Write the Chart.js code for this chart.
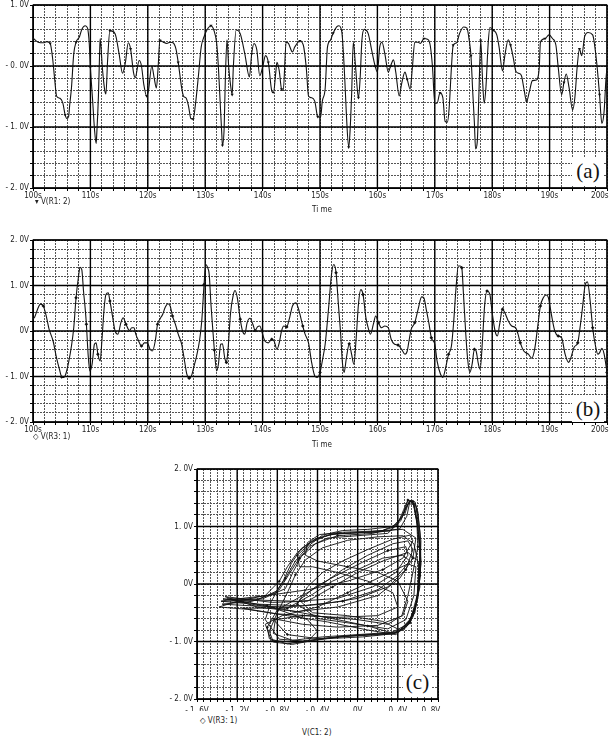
<!DOCTYPE html>
<html>
<head>
<meta charset="UTF-8">
<title>V(R1:2), V(R3:1) and phase portrait</title>
<script src="https://cdn.jsdelivr.net/npm/chart.js"></script>
<style>
    body {
        margin: 0;
        width: 611px;
        height: 740px;
        position: relative;
        overflow: hidden;
        background: #fff;
        font-family: 'DejaVu Sans Condensed', 'Liberation Sans Narrow', sans-serif;
    }
    canvas, .lbl, .tag { position: absolute; }
    .lbl { font-size: 8px; line-height: 8px; color: #222; white-space: nowrap; }
    .tag {
        background: #fff;
        font-family: 'Liberation Serif', 'DejaVu Serif', serif;
        font-size: 21px;
        text-align: center;
        color: #111;
    }
</style>
</head>
<body>
<canvas id="chartA" width="611" height="200" style="left:0px;top:0px"></canvas>
<canvas id="chartB" width="611" height="204" style="left:0px;top:230px"></canvas>
<canvas id="chartC" width="300" height="251" style="left:150px;top:460px"></canvas>

<div class="lbl" style="left:35px;top:198px">&#9662; V(R1: 2)</div>
<div class="lbl" style="left:312px;top:206px">Ti me</div>
<div class="lbl" style="left:33px;top:433px">&#9671; V(R3: 1)</div>
<div class="lbl" style="left:312px;top:441px">Ti me</div>
<div class="lbl" style="left:200px;top:717px">&#9671; V(R3: 1)</div>
<div class="lbl" style="left:302px;top:729px">V(C1: 2)</div>

<div class="tag" style="left:572px;top:157px;width:32px;height:29px;line-height:29px">(a)</div>
<div class="tag" style="left:572px;top:396px;width:32px;height:26px;line-height:26px">(b)</div>
<div class="tag" style="left:403px;top:668px;width:29px;height:28px;line-height:28px">(c)</div>

<script>
    // (a) V(R1:2) against time
    const timeA = [100.0, 100.9, 101.8, 102.4, 103.0, 103.4, 103.8, 104.1, 104.7, 105.2, 105.6, 105.9, 106.2, 106.4, 106.7,
        107.1, 107.5, 108.1, 108.5, 109.1, 109.5, 109.8, 110.0, 110.4, 110.7, 111.0, 111.1, 111.4, 111.6, 111.7,
        112.1, 112.5, 112.7, 113.0, 113.4, 114.3, 115.0, 115.6, 116.1, 116.6, 117.0, 117.5, 117.8, 118.5, 118.9,
        119.3, 119.8, 120.1, 120.7, 121.1, 121.5, 121.8, 122.1, 122.7, 123.3, 123.9, 124.4, 124.9, 125.3, 125.9,
        126.2, 126.7, 127.1, 127.5, 127.9, 128.3, 128.8, 129.3, 129.8, 130.3, 131.0, 131.5, 132.0, 132.3, 132.6,
        132.9, 133.0, 133.3, 133.5, 133.8, 134.1, 134.4, 134.7, 134.9, 135.4, 136.1, 136.9, 137.7, 138.1, 138.5,
        139.0, 139.5, 140.0, 140.5, 141.0, 141.6, 141.9, 142.3, 142.5, 142.9, 143.3, 143.6, 144.1, 144.5, 145.2,
        145.6, 146.5, 147.1, 147.6, 148.0, 148.5, 149.1, 149.6, 150.1, 150.4, 150.9, 151.3, 151.8, 152.3, 152.9,
        153.3, 153.8, 154.3, 154.6, 155.0, 155.2, 155.5, 155.8, 156.2, 156.5, 156.7, 157.0, 157.3, 157.7, 158.4,
        159.0, 159.6, 160.0, 160.4, 160.8, 161.3, 161.9, 162.3, 162.8, 163.2, 163.8, 164.2, 164.8, 165.2, 165.7,
        166.1, 166.5, 167.1, 167.5, 168.1, 168.7, 169.2, 169.6, 170.0, 170.4, 170.9, 171.4, 171.8, 172.2, 172.5,
        172.9, 173.2, 173.8, 174.3, 175.0, 175.6, 176.0, 176.3, 176.6, 176.9, 177.1, 177.4, 177.7, 178.0, 178.3,
        178.6, 178.9, 179.3, 179.6, 180.2, 180.8, 181.2, 181.8, 182.2, 182.8, 183.2, 183.7, 184.1, 184.6, 185.1,
        185.5, 186.0, 186.5, 187.0, 187.7, 188.2, 188.4, 189.2, 189.9, 190.5, 191.1, 191.5, 192.1, 192.5, 192.9,
        193.4, 194.0, 194.4, 194.8, 195.2, 195.6, 196.1, 196.7, 197.5, 198.2, 198.7, 199.1, 199.5, 199.8, 200.0];
    const vR1 = [0.46, 0.39, 0.38, 0.40, 0.37, 0.14, -0.24, -0.49, -0.53, -0.61, -0.80, -0.86, -0.83, -0.63, -0.36,
        0.20, 0.39, 0.48, 0.60, 0.66, 0.62, 0.37, -0.02, -0.58, -1.02, -1.27, -1.13, -0.49, 0.20, 0.45,
        -0.05, -0.40, -0.46, 0.10, 0.58, 0.53, 0.20, -0.12, 0.06, 0.38, 0.28, -0.10, -0.19, 0.09, 0.00,
        -0.30, -0.49, -0.41, 0.00, -0.19, -0.36, -0.02, 0.42, 0.39, 0.37, 0.39, 0.38, 0.28, 0.06, -0.36,
        -0.49, -0.53, -0.66, -0.86, -0.87, -0.63, -0.18, 0.31, 0.48, 0.59, 0.66, 0.59, 0.37, -0.02, -0.58,
        -1.13, -1.30, -1.02, -0.24, 0.43, -0.02, -0.30, -0.47, -0.02, 0.59, 0.53, 0.20, -0.18, 0.20, 0.37,
        0.26, -0.16, -0.02, 0.17, 0.06, -0.41, -0.44, -0.10, 0.06, -0.08, -0.38, -0.40, 0.39, 0.37, 0.23,
        0.31, 0.41, 0.34, -0.02, -0.49, -0.52, -0.58, -0.83, -0.84, -0.58, -0.37, 0.31, 0.42, 0.54, 0.64,
        0.66, 0.56, -0.18, -0.80, -1.33, -1.13, -0.49, 0.39, -0.02, -0.38, -0.52, -0.19, 0.42, 0.60, 0.53,
        0.26, 0.00, -0.10, 0.31, 0.39, 0.20, -0.10, 0.00, 0.10, -0.10, -0.49, -0.30, -0.10, -0.22, -0.38,
        -0.02, 0.39, 0.39, 0.37, 0.45, 0.44, 0.34, -0.02, -0.61, -0.61, -0.44, -0.52, -0.91, -0.92, -0.69,
        -0.02, 0.34, 0.38, 0.53, 0.64, 0.62, 0.42, 0.17, -0.41, -0.94, -1.36, -1.24, -0.41, 0.42, -0.19,
        -0.61, -0.36, 0.37, 0.63, 0.59, 0.51, 0.31, -0.08, 0.17, 0.43, 0.34, 0.12, -0.08, -0.12, -0.16,
        -0.36, -0.58, -0.41, -0.24, -0.23, -0.02, 0.39, 0.45, 0.51, 0.45, 0.34, -0.02, -0.47, -0.27, -0.13,
        -0.36, -0.72, -0.52, -0.02, 0.28, 0.17, 0.48, 0.55, 0.51, 0.06, -0.47, -0.94, -0.74, -0.24, -0.02];

    // (b) V(R3:1) against time
    const timeB = [100.0, 100.3, 100.8, 101.3, 101.8, 102.3, 102.8, 103.5, 104.1, 104.6, 105.0, 105.4, 105.7, 106.2, 106.7,
        107.1, 107.5, 107.9, 108.2, 108.5, 108.8, 109.1, 109.3, 109.6, 109.9, 110.3, 110.7, 111.0, 111.3, 111.7,
        112.0, 112.4, 112.7, 113.1, 113.4, 113.9, 114.3, 114.8, 115.3, 115.7, 116.2, 116.8, 117.2, 117.6, 117.9,
        118.4, 118.9, 119.4, 119.9, 120.4, 120.8, 121.3, 121.7, 122.1, 122.6, 123.0, 123.5, 123.9, 124.3, 124.8,
        125.3, 125.9, 126.4, 126.8, 127.2, 127.6, 128.0, 128.5, 129.0, 129.4, 129.8, 130.1, 130.4, 130.7, 131.0,
        131.3, 131.6, 132.0, 132.3, 132.7, 133.0, 133.4, 133.7, 134.0, 134.4, 134.9, 135.2, 135.6, 136.1, 136.5,
        136.9, 137.3, 137.8, 138.3, 138.7, 139.1, 139.5, 140.0, 140.4, 141.0, 141.6, 142.0, 142.5, 142.9, 143.3,
        143.7, 144.2, 144.7, 145.2, 145.8, 146.2, 146.5, 147.0, 147.4, 148.0, 148.5, 149.1, 149.5, 150.0, 150.5,
        150.9, 151.5, 152.0, 152.4, 152.8, 153.2, 153.6, 153.9, 154.2, 154.6, 155.1, 155.5, 155.9, 156.3, 156.7,
        157.1, 157.5, 158.0, 158.4, 158.8, 159.3, 159.7, 160.2, 160.7, 161.3, 161.9, 162.4, 163.0, 163.6, 164.2,
        164.8, 165.2, 165.5, 165.9, 166.5, 167.1, 167.7, 168.1, 168.5, 169.0, 169.4, 170.0, 170.4, 171.0, 171.4,
        171.9, 172.4, 172.9, 173.3, 173.7, 174.1, 174.4, 174.7, 175.0, 175.4, 175.7, 176.1, 176.5, 176.9, 177.2,
        177.6, 177.9, 178.3, 178.7, 179.1, 179.6, 180.0, 180.5, 180.9, 181.3, 181.8, 182.2, 182.8, 183.4, 184.1,
        184.5, 184.9, 185.5, 186.3, 186.9, 187.4, 187.9, 188.4, 188.9, 189.4, 189.8, 190.3, 190.9, 191.5, 192.1,
        192.7, 193.3, 193.7, 194.3, 194.9, 195.3, 195.8, 196.2, 196.6, 197.1, 197.5, 198.0, 198.4, 198.7, 199.1,
        199.5, 200.0];
    const vR3 = [0.26, 0.31, 0.48, 0.59, 0.55, 0.33, 0.04, -0.22, -0.59, -0.84, -1.01, -1.02, -0.95, -0.69, -0.33,
        0.07, 0.73, 1.17, 1.40, 1.35, 0.88, 0.48, 0.15, -0.51, -0.88, -0.73, -0.29, -0.26, -0.51, -0.66,
        -0.22, 0.51, 0.80, 0.84, 0.66, 0.29, 0.00, -0.07, 0.18, 0.29, 0.15, 0.01, 0.07, 0.07, -0.07,
        -0.22, -0.33, -0.26, -0.26, -0.40, -0.44, -0.22, 0.15, 0.26, 0.37, 0.51, 0.60, 0.55, 0.33, 0.15,
        -0.07, -0.29, -0.66, -0.95, -1.04, -0.99, -0.80, -0.55, -0.22, 0.22, 1.02, 1.46, 1.40, 1.24, 0.59,
        0.07, -0.42, -0.88, -0.73, -0.29, -0.28, -0.59, -0.69, -0.37, 0.37, 0.80, 0.89, 0.73, 0.26, 0.00,
        -0.07, 0.18, 0.28, 0.15, 0.01, 0.09, 0.11, -0.07, -0.22, -0.26, -0.18, -0.22, -0.40, -0.26, 0.00,
        0.11, 0.09, 0.29, 0.55, 0.62, 0.51, 0.37, 0.11, -0.07, -0.26, -0.66, -0.99, -1.02, -0.91, -0.59,
        -0.29, 0.51, 1.24, 1.46, 1.28, 0.59, -0.07, -0.69, -0.91, -0.59, -0.28, -0.51, -0.73, -0.16, 0.59,
        0.91, 0.80, 0.29, 0.07, -0.07, 0.15, 0.33, 0.18, 0.07, 0.11, 0.07, -0.18, -0.29, -0.31, -0.40,
        -0.51, -0.44, -0.22, 0.04, 0.18, 0.48, 0.75, 0.73, 0.48, 0.15, -0.15, -0.29, -0.66, -0.95, -1.02,
        -0.80, -0.51, -0.33, 0.22, 0.95, 1.43, 1.43, 1.39, 0.80, -0.07, -0.59, -0.91, -0.73, -0.40, -0.44,
        -0.73, -0.84, -0.22, 0.59, 0.88, 0.80, 0.40, 0.00, -0.11, 0.15, 0.48, 0.40, 0.22, 0.11, 0.07,
        -0.07, -0.26, -0.44, -0.51, -0.60, -0.40, 0.07, 0.55, 0.73, 0.79, 0.73, 0.37, 0.00, -0.11, -0.15,
        -0.51, -0.69, -0.59, -0.35, -0.26, 0.07, 0.59, 1.02, 1.08, 0.62, 0.07, -0.33, -0.51, -0.48, -0.38,
        -0.51, -0.91];

    // (c) V(R3:1) against V(C1:2)
    const vC1 = [-1.36, -1.10, -0.80, -0.50, -0.20, 0.10, 0.36, 0.48, 0.56, 0.61, 0.63, 0.62, 0.60, 0.57, 0.50,
        0.46, 0.40, 0.25, 0.00, -0.25, -0.45, -0.60, -0.70, -0.78, -0.92, -1.20, -1.38,
        -1.10, -0.70, -0.30, 0.10, 0.38, 0.52, 0.59, 0.61, 0.56, 0.45, 0.20, -0.10, -0.35, -0.52, -0.62, -0.70,
        -0.80, -0.88, -0.84, -0.65, -0.50, -0.40, -0.50, -0.90, -1.30,
        -1.00, -0.60, -0.20, 0.15, 0.38, 0.50, 0.48, 0.30, 0.05, -0.20, -0.42, -0.58, -0.45, -0.10, 0.25, 0.42,
        0.53, 0.60, 0.62, 0.60, 0.55, 0.52, 0.49, 0.42, 0.20, -0.20, -0.40, -0.56, -0.66, -0.74, -0.86, -0.92,
        -0.78, -0.55, -0.20, 0.20, 0.40, 0.55, 0.62, 0.60, 0.50, 0.25, 0.00, -0.25, -0.50, -0.85, -1.32,
        -1.00, -0.60, -0.20, 0.20, 0.42, 0.55, 0.58, 0.45, 0.15, -0.15, -0.38, -0.50, -0.52, -0.40, -0.10, 0.20,
        0.40, 0.50, 0.45, 0.20, -0.20, -0.55, -0.85, -0.70, -0.40, 0.00, 0.35, 0.50, 0.58, 0.62, 0.62, 0.58,
        0.55, 0.51, 0.47, 0.35, 0.10, -0.15, -0.35, -0.50, -0.62, -0.72, -0.82, -1.05, -1.35,
        -1.05, -0.70, -0.35, 0.00, 0.30, 0.48, 0.55, 0.50, 0.35, 0.10, -0.15, -0.35, -0.55, -0.80, -0.90, -0.88,
        -0.70, -0.45, -0.10, 0.30, 0.45, 0.57, 0.61, 0.62, 0.59, 0.56, 0.50, 0.43, 0.30, 0.00, -0.30, -0.48,
        -0.58, -0.68, -0.78, -1.00, -1.36,
        -1.30, -0.90, -0.50, -0.10, 0.25, 0.45, 0.55, 0.52, 0.35, 0.10, -0.15, -0.35, -0.50, -0.60, -0.40, 0.00,
        0.30, 0.48, 0.56, 0.58, 0.50, 0.20, -0.10, -0.40, -0.75, -0.92, -0.86, -0.60, -0.30, 0.05, 0.38, 0.52,
        0.60, 0.63, 0.61, 0.58, 0.53, 0.48, 0.38, 0.15, -0.20, -0.42, -0.56, -0.64, -0.72, -0.95, -1.34,
        -1.00, -0.55, -0.15, 0.20, 0.40, 0.52, 0.45, 0.25, 0.00, -0.25, -0.45, -0.70, -1.15, -0.80, -0.40, 0.00,
        0.30, 0.44, 0.50, 0.55, 0.60, 0.59, 0.56, 0.50, 0.44, 0.32, 0.05, -0.28, -0.47, -0.60, -0.58, -0.45,
        -0.20, 0.10, 0.35, 0.40, 0.20, -0.20, -0.55, -0.82, -0.84, -0.65, -0.35, 0.00, 0.34, 0.50, 0.58, 0.62,
        0.63, 0.60, 0.57];
    const vR3c = [-0.30, -0.34, -0.42, -0.52, -0.62, -0.73, -0.86, -0.76, -0.52, -0.10, 0.40, 0.90, 1.25, 1.43, 1.46,
        1.30, 1.05, 0.93, 0.89, 0.87, 0.76, 0.55, 0.30, 0.05, -0.20, -0.30, -0.40,
        -0.44, -0.55, -0.66, -0.80, -0.88, -0.68, -0.30, 0.30, 0.70, 0.84, 0.82, 0.76, 0.63, 0.42, 0.16, -0.15,
        -0.50, -0.82, -1.01, -1.05, -1.00, -0.82, -0.62, -0.38, -0.26,
        -0.28, -0.30, -0.25, -0.05, 0.20, 0.50, 0.65, 0.58, 0.38, 0.16, -0.05, -0.28, -0.50, -0.55, -0.65, -0.80,
        -0.60, -0.15, 0.50, 1.00, 1.42, 1.44, 1.18, 0.96, 0.90, 0.88, 0.80, 0.62, 0.36, 0.06, -0.30, -0.62,
        -0.96, -0.99, -0.92, -0.87, -0.84, -0.58, -0.05, 0.40, 0.55, 0.40, 0.20, -0.05, -0.30, -0.32, -0.22,
        -0.40, -0.48, -0.40, -0.20, 0.10, 0.45, 0.80, 0.95, 0.92, 0.90, 0.86, 0.72, 0.50, 0.40, 0.30, 0.20,
        0.05, -0.30, -0.55, -0.72, -0.75, -0.70, -0.60, -0.88, -0.95, -0.90, -0.87, -0.72, -0.40, 0.10, 0.70, 1.20,
        1.44, 1.43, 1.22, 1.00, 0.95, 0.93, 0.85, 0.65, 0.40, 0.10, -0.15, -0.30, -0.35,
        -0.38, -0.40, -0.35, -0.25, -0.05, 0.25, 0.60, 0.75, 0.70, 0.50, 0.25, 0.00, -0.20, -0.45, -0.75, -0.95,
        -1.04, -0.98, -0.90, -0.86, -0.80, -0.50, 0.00, 0.60, 1.10, 1.40, 1.45, 1.10, 0.88, 0.84, 0.80, 0.65,
        0.45, 0.18, -0.10, -0.28, -0.30,
        -0.28, -0.20, -0.10, 0.05, 0.25, 0.45, 0.75, 0.85, 0.78, 0.60, 0.40, 0.20, -0.05, -0.35, -0.60, -0.70,
        -0.78, -0.62, -0.20, 0.30, 0.35, 0.10, -0.15, -0.40, -0.55, -0.70, -0.98, -1.02, -0.95, -0.92, -0.86, -0.65,
        -0.25, 0.35, 0.95, 1.35, 1.46, 1.32, 1.00, 0.88, 0.84, 0.70, 0.48, 0.22, -0.08, -0.26, -0.26,
        -0.35, -0.38, -0.30, -0.10, 0.15, 0.40, 0.50, 0.45, 0.25, 0.05, -0.18, -0.42, -0.42, -0.52, -0.56, -0.62,
        -0.70, -0.55, -0.20, 0.20, 0.65, 1.05, 1.38, 1.40, 1.15, 0.92, 0.90, 0.86, 0.72, 0.50, 0.30, 0.30,
        0.20, 0.05, -0.15, -0.40, -0.55, -0.58, -0.55, -0.62, -0.86, -0.98, -0.92, -0.88, -0.84, -0.70, -0.35, 0.15,
        0.75, 1.20, 1.42];

    // axis labels
    const timeTicks = [100, 110, 120, 130, 140, 150, 160, 170, 180, 190, 200];
    const timeLabels = ['100s', '110s', '120s', '130s', '140s', '150s', '160s', '170s', '180s', '190s', '200s'];
    const aVoltTicks = [1, 0, -1, -2];
    const aVoltLabels = ['1. 0V', '- 0. 0V', '- 1. 0V', '- 2. 0V'];
    const bVoltTicks = [2, 1, 0, -1, -2];
    const bVoltLabels = ['2. 0V', '1. 0V', '0V', '- 1. 0V', '- 2. 0V'];
    const cXTicks = [-1.6, -1.2, -0.8, -0.4, 0, 0.4, 0.8];
    const cXLabels = ['- 1. 6V', '- 1. 2V', '- 0. 8V', '- 0. 4V', '0V', '0. 4V', '0. 8V'];

    const tickFont = { family: "'DejaVu Sans Condensed', 'Liberation Sans Narrow', sans-serif", size: 8 };

    function minorTicks(min, max, n) {
        const out = [];
        for (let i = 0; i <= n; i++) out.push({ value: min + (max - min) * i / n });
        return out;
    }

    function labelFor(ticks, labels, v) {
        const i = ticks.findIndex(t => Math.abs(t - v) < 1e-6);
        return i < 0 ? '' : labels[i];
    }

    // one axis: dotted minor grid, labels only at the major values
    function axis(min, max, steps, ticks, labels, size, pad) {
        return {
            type: 'linear', min: min, max: max,
            afterBuildTicks: s => { s.ticks = minorTicks(min, max, steps); },
            ticks: {
                autoSkip: false, maxRotation: 0, padding: pad, color: '#222', font: tickFont,
                callback: function (v) {
                    const s = labelFor(ticks, labels, v);
                    // the last time label sits inside the frame, as in the plot
                    return (this.isHorizontal() && Math.abs(v - max) < 1e-6) ? s + '\u2003\u2003' : s;
                }
            },
            grid: { color: '#555', lineWidth: 1, tickLength: 3, tickColor: '#000', tickBorderDash: [] },
            border: { color: '#000', width: 1, dash: [2, 1] },
            afterFit: s => {
                if (s.isHorizontal()) s.height = size; else s.width = size;
                s.paddingLeft = 0; s.paddingRight = 0; s.paddingTop = 0; s.paddingBottom = 0;
            }
        };
    }

    // solid lines at the labelled values and round the plot area
    const majorGrid = {
        id: 'majorGrid',
        beforeDatasetsDraw(chart, args, opts) {
            const { ctx, chartArea: a, scales: { x, y } } = chart;
            ctx.save();
            ctx.strokeStyle = '#000';
            ctx.lineWidth = 1.4;
            ctx.beginPath();
            opts.x.forEach(v => {
                const px = x.getPixelForValue(v);
                ctx.moveTo(px, a.top); ctx.lineTo(px, a.bottom);
            });
            opts.y.forEach(v => {
                const py = y.getPixelForValue(v);
                ctx.moveTo(a.left, py); ctx.lineTo(a.right, py);
            });
            ctx.stroke();
            ctx.lineWidth = 1;
            ctx.strokeRect(a.left, a.top, a.right - a.left, a.bottom - a.top);
            ctx.restore();
        }
    };

    function timeChart(id, times, values, yMin, yMax, yTicks, yLabels, marker, padTop) {
        return new Chart(document.getElementById(id), {
            type: 'line',
            data: {
                datasets: [{
                    data: times.map((t, i) => ({ x: t, y: values[i] })),
                    borderColor: '#111',
                    borderWidth: 1.1,
                    cubicInterpolationMode: 'monotone',
                    pointRadius: c => (c.dataIndex % 6 === 4 ? 1.8 : 0),
                    pointStyle: marker,
                    pointRotation: marker === 'triangle' ? 180 : 0,
                    pointBackgroundColor: '#111',
                    pointBorderColor: '#111',
                    pointBorderWidth: 0
                }]
            },
            options: {
                responsive: false,
                animation: false,
                layout: { padding: { top: padTop, right: 4, left: 0, bottom: 0 } },
                plugins: {
                    legend: { display: false },
                    tooltip: { enabled: false },
                    majorGrid: { x: timeTicks, y: yTicks }
                },
                scales: {
                    x: axis(100, 200, 50, timeTicks, timeLabels, 12, 0),
                    y: axis(yMin, yMax, Math.round((yMax - yMin) * 5), yTicks, yLabels, 33, 1)
                }
            },
            plugins: [majorGrid]
        });
    }

    window.onload = function () {
        timeChart('chartA', timeA, vR1, -2, 1, aVoltTicks, aVoltLabels, 'triangle', 5);
        timeChart('chartB', timeB, vR3, -2, 2, bVoltTicks, bVoltLabels, 'rectRot', 10);

        new Chart(document.getElementById('chartC'), {
            type: 'scatter',
            data: {
                datasets: [{
                    data: vC1.map((v, i) => ({ x: v, y: vR3c[i] })),
                    showLine: true,
                    tension: 0,
                    borderColor: '#111',
                    borderWidth: 0.9,
                    pointRadius: c => (c.dataIndex % 9 === 5 ? 1.5 : 0),
                    pointStyle: 'rectRot',
                    pointBackgroundColor: '#111',
                    pointBorderWidth: 0
                }]
            },
            options: {
                responsive: false,
                animation: false,
                layout: { padding: { top: 9, right: 12, left: 0, bottom: 0 } },
                plugins: {
                    legend: { display: false },
                    tooltip: { enabled: false },
                    majorGrid: { x: cXTicks, y: bVoltTicks }
                },
                scales: {
                    x: axis(-1.6, 0.8, 36, cXTicks, cXLabels, 12, 4),
                    y: axis(-2, 2, 20, bVoltTicks, bVoltLabels, 47, 1)
                }
            },
            plugins: [majorGrid]
        });
    };
</script>
</body>
</html>
